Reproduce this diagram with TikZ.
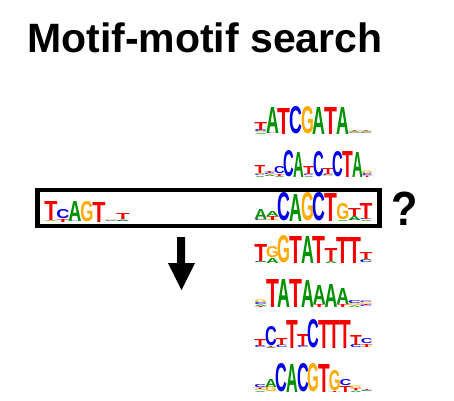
\documentclass[tikz,border=0pt]{standalone}
\usepackage{fontspec}
\setmainfont{Liberation Sans}
\newfontfamily\logofont{Liberation Sans}
\usepackage{graphicx}
\definecolor{colA}{RGB}{0,145,0}
\definecolor{colC}{RGB}{0,0,230}
\definecolor{colG}{RGB}{255,170,0}
\definecolor{colT}{RGB}{245,0,0}
\tikzset{
  logoletter/.style={anchor=south west, inner sep=0pt, outer sep=0pt},
  titletext/.style={anchor=base west, inner sep=0pt, font=\fontsize{41}{48}\selectfont\bfseries},
  querybox/.style={draw=black, line width=4.5pt, minimum width=342pt, minimum height=36pt, inner sep=0pt},
  bigmark/.style={anchor=base west, inner sep=0pt, font=\fontsize{48}{56}\selectfont\bfseries},
  arrowshape/.style={fill=black, draw=none}
}
\newcommand\seqlogo[4]{%
  \pgfmathsetmacro\ww{#3*1.1}%
  \foreach \colspec [count=\ci from 0] in {#4} {%
    \xdef\cumh{0}%
    \foreach \ltr/\hgt in \colspec {%
      \pgfmathsetmacro\xx{#1+\ci*#3-0.05*#3}%
      \pgfmathsetmacro\yy{#2-\cumh}%
      \node[logoletter, text=col\ltr] at (\xx,\yy) {\resizebox{\ww pt}{\hgt pt}{\logofont\bfseries\ltr}};%
      \pgfmathsetmacro\tmpsum{\cumh+\hgt}\xdef\cumh{\tmpsum}%
    }%
  }%
}
\begin{document}
\begin{tikzpicture}[x=1pt,y=-1pt]
\useasboundingbox (0,0) rectangle (454,400);
\fill[white] (0,0) rectangle (454,400);
% title
\node[titletext] (title) at (27,52) {Motif-motif search};
% query box
\node[querybox] (query) at (208.5,208) {};
\node[bigmark] (qmark) at (391.5,225) {\scalebox{0.9}[1]{?}};
% arrow
\coordinate (arrtop) at (181,237);
\coordinate (arrtip) at (181.5,290);
\fill[arrowshape] ([xshift=-4pt]arrtop) -- ([xshift=4pt]arrtop) -- ([xshift=4pt]arrtop |- 0,263) -- (195,263) -- (arrtip) -- (168,263) -- ([xshift=-4pt]arrtop |- 0,263) -- cycle;
% left query logo
\seqlogo{45}{222}{12}{{A/0.7,G/0.7,T/19},{T/3,C/9},{C/0.6,A/20},{G/20},{T/20},{C/0.6,A/0.6,G/0.6},{C/1,A/1.5,T/6}}
% row 1
\seqlogo{255}{134}{11.7}{{A/1,G/1,C/2,T/8},{C/0.6,A/26},{T/26},{C/27},{G/27},{A/27},{T/27},{A/27},{C/0.8,G/0.8,A/0.8,T/0.8},{C/0.8,G/0.8,A/0.8,T/0.8}}
% row 2
\seqlogo{255}{177}{9.75}{{A/1,C/1.5,G/1,T/8},{G/1,A/1.5,C/1.5,T/2},{A/1,T/2,C/7},{C/26},{A/25},{A/1,C/1.5,T/8},{C/25},{G/1,C/1.5,T/6},{C/25},{T/26},{A/25},{T/1.5,C/2,G/2.5}}
% row 3 (in box)
\seqlogo{255}{221}{11.7}{{C/1,G/1,A/10},{G/1,T/4,A/5},{C/28},{A/27},{G/28},{C/28},{T/28},{A/1,G/16},{C/1,A/4,T/8},{A/1,C/1,T/16}}
% row 4
\seqlogo{255}{263}{11.7}{{C/1,A/1,T/17},{A/5,G/11},{G/27},{T/27},{A/27},{T/27},{A/2,T/13},{T/26},{T/26},{C/2.5,A/1,T/7}}
% row 5
\seqlogo{255}{307}{11.7}{{T/1,A/1.5,C/2,G/2.5},{T/28},{A/28},{T/28},{A/27},{T/3,A/19},{A/23},{T/3,A/16},{A/1.5,G/2,C/3},{C/1.5,T/1,G/1.5,C/1.5}}
% row 6
\seqlogo{255}{348}{10.64}{{C/2,T/7},{A/1,T/1,C/19},{C/2.5,T/7},{T/28},{C/2,T/12},{C/28},{T/28},{T/28},{T/28},{C/3,T/10},{G/1,T/3,C/5}}
% row 7
\seqlogo{255}{392}{10.64}{{A/1,G/1.5,T/1.5,C/3},{G/5,A/8},{C/28},{A/28},{C/28},{G/28},{T/28},{T/1,G/20},{T/6,C/6},{A/1.5,T/2,G/2.5},{C/0.8,A/0.8,T/0.8}}
\end{tikzpicture}
\end{document}
